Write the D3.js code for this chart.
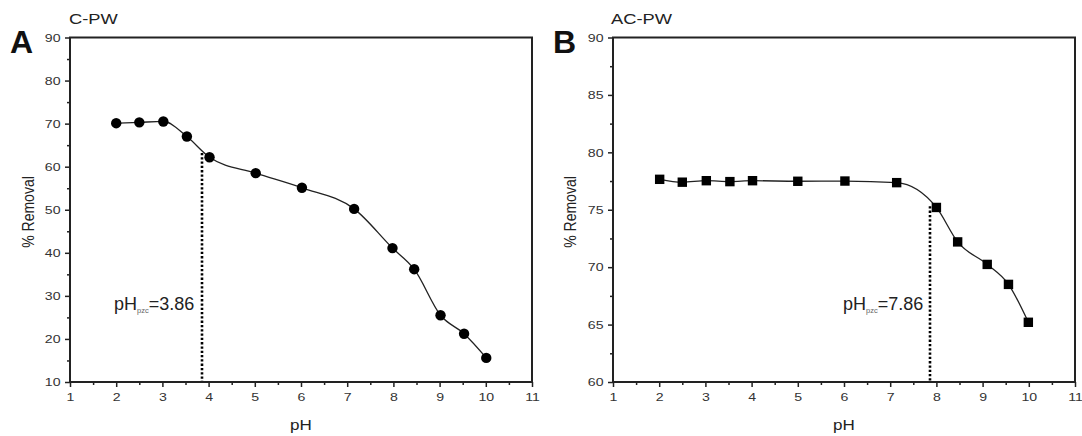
<!DOCTYPE html>
<html><head><meta charset="utf-8">
<script src="https://cdn.jsdelivr.net/npm/d3@7"></script>
<style>body{margin:0;background:#fff}svg{display:block;font-family:"Liberation Sans",Arial,sans-serif}</style>
</head><body><svg id="c" width="1082" height="436"></svg>
<script>
// Panel A: C-PW
const phA = [2.0, 2.5, 3.02, 3.53, 4.02, 5.02, 6.02, 7.15, 7.98, 8.45, 9.02, 9.53, 10.01];
const remA = [70.1, 70.3, 70.5, 67.0, 62.2, 58.5, 55.1, 50.2, 41.1, 36.2, 25.5, 21.2, 15.6];
// Panel B: AC-PW
const phB = [2.01, 2.5, 3.02, 3.53, 4.02, 5.0, 6.02, 7.14, 8.0, 8.46, 9.1, 9.56, 9.99];
const remB = [77.65, 77.4, 77.53, 77.45, 77.53, 77.48, 77.5, 77.36, 75.2, 72.2, 70.24, 68.5, 65.2];
const xTicks = [1,2,3,4,5,6,7,8,9,10,11];
const yTicksA = [10,20,30,40,50,60,70,80,90];
const yTicksB = [60,65,70,75,80,85,90];
const pzcA = 3.86, pzcB = 7.86;
const pzcTopA = 63.2, pzcTopB = 75.3;

const svg = d3.select("#c");
const tc = "#333";
const SX = 1.22;

function panel(o){
  const g = svg.append("g");
  const x = d3.scaleLinear().domain([1,11]).range([o.left, o.right]);
  const y = d3.scaleLinear().domain(o.ydom).range([382, 37.5]);
  // minor ticks
  const xMinor = d3.range(1.5, 11, 1);
  const xa = d3.axisBottom(x).tickValues(xMinor).tickSize(3).tickFormat("");
  g.append("g").attr("transform","translate(0,382)").call(xa).call(s=>s.select(".domain").remove())
    .selectAll("line").attr("stroke","#222").attr("stroke-width",1.5);
  const ya = d3.axisLeft(y).tickValues(o.yMinor).tickSize(3).tickFormat("");
  g.append("g").attr("transform",`translate(${o.left},0)`).call(ya).call(s=>s.select(".domain").remove())
    .selectAll("line").attr("stroke","#222").attr("stroke-width",1.5);
  // major
  const xM = d3.axisBottom(x).tickValues(xTicks).tickSize(5).tickPadding(6).tickFormat(d3.format("d"));
  const gx = g.append("g").attr("transform","translate(0,382)").call(xM);
  gx.select(".domain").remove();
  gx.selectAll("line").attr("stroke","#222").attr("stroke-width",1.5);
  gx.selectAll("text").attr("fill",tc).attr("font-size",11.6).attr("font-family","Liberation Sans, Arial, sans-serif")
    .attr("transform",`scale(${SX},1)`);
  const yM = d3.axisLeft(y).tickValues(o.yTicks).tickSize(5).tickPadding(4).tickFormat(d3.format("d"));
  const gy = g.append("g").attr("transform",`translate(${o.left},0)`).call(yM);
  gy.select(".domain").remove();
  gy.selectAll("line").attr("stroke","#222").attr("stroke-width",1.5);
  gy.selectAll("text").attr("fill",tc).attr("font-size",11.6).attr("font-family","Liberation Sans, Arial, sans-serif")
    .attr("x", -9.5/SX).attr("transform",`scale(${SX},1)`);
  // frame
  g.append("rect").attr("x",o.left).attr("y",37.5).attr("width",o.right-o.left).attr("height",382-37.5)
    .attr("fill","none").attr("stroke","#222").attr("stroke-width",2);
  // dotted pzc line
  const px = Math.round(x(o.pzc));
  g.append("line").attr("x1",px).attr("x2",px).attr("y1",y(o.pzcTop)).attr("y2",381)
    .attr("stroke","#000").attr("stroke-width",2.6).attr("stroke-dasharray","2.3,2");
  // curve
  const pts = o.xs.map((v,i)=>[x(v), y(o.ys[i])]);
  g.append("path").attr("d", d3.line().curve(d3.curveMonotoneX)(pts))
    .attr("fill","none").attr("stroke","#222").attr("stroke-width",1.3);
  // markers
  if(o.shape==="circle"){
    g.selectAll("circle.pt").data(pts).join("circle").attr("cx",d=>d[0]).attr("cy",d=>d[1]).attr("r",5.2).attr("fill","#000");
  } else {
    g.selectAll("rect.pt").data(pts).join("rect").attr("x",d=>d[0]-4.7).attr("y",d=>d[1]-4.7).attr("width",9.4).attr("height",9.4).attr("fill","#000");
  }
  // pzc label
  const t = g.append("text").attr("x",o.labX).attr("y",309.5).attr("font-size",18).attr("fill","#222");
  t.append("tspan").text("pH");
  t.append("tspan").attr("font-size",7.5).attr("dy",3).attr("fill","#666").text("pzc");
  t.append("tspan").attr("dy",-3).text("="+o.pzc.toFixed(2));
  // axis titles
  g.append("text").attr("transform",`translate(${(o.left+o.right)/2},430) scale(${SX},1)`).attr("text-anchor","middle")
    .attr("font-size",14).attr("fill","#222").text("pH");
  g.append("text").attr("transform",`translate(${o.ytx},212) rotate(-90) scale(1,${SX})`).attr("text-anchor","middle")
    .attr("font-size",14).attr("fill","#222").text("% Removal");
  // panel letter and title
  g.append("text").attr("x",o.letX).attr("y",53).attr("font-size",32).attr("font-weight","bold").attr("fill","#111").text(o.letter);
  g.append("text").attr("transform",`translate(${o.titleX},24) scale(${SX},1)`).attr("font-size",15).attr("fill","#222").text(o.title);
}

panel({left:70, right:532, ydom:[10,90], yTicks:yTicksA, yMinor:d3.range(15,90,10),
  xs:phA, ys:remA, shape:"circle", pzc:pzcA, pzcTop:pzcTopA, labX:114, ytx:33.5, letX:10, letter:"A", title:"C-PW", titleX:69});
panel({left:613, right:1075, ydom:[60,90], yTicks:yTicksB, yMinor:d3.range(62.5,90,5),
  xs:phB, ys:remB, shape:"square", pzc:pzcB, pzcTop:pzcTopB, labX:843, ytx:576, letX:553, letter:"B", title:"AC-PW", titleX:611});
</script></body></html>
